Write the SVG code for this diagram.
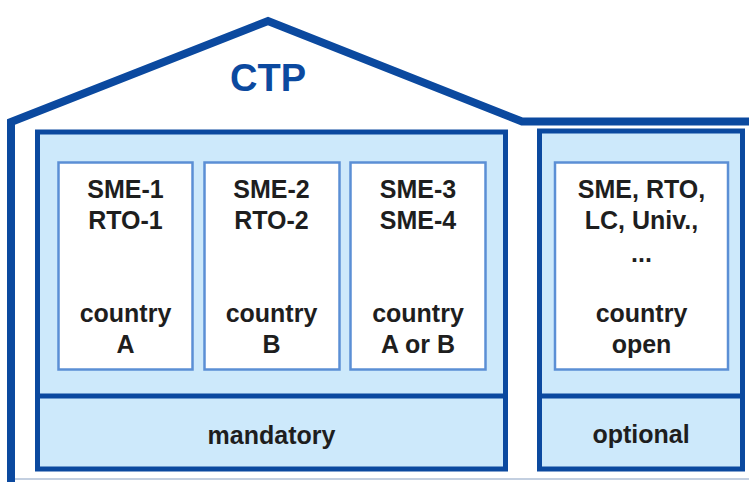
<svg xmlns="http://www.w3.org/2000/svg" width="749" height="482" viewBox="0 0 749 482">
<style>
.frame{fill:#cde9fb;stroke:#0b499f;stroke-width:5}
.div{stroke:#0b499f;stroke-width:5}
.inner{fill:#ffffff;stroke:#5b8fd5;stroke-width:2.5}
.t{font-family:"Liberation Sans",Arial,sans-serif;font-weight:bold;font-size:25px;fill:#1e1e1e;text-anchor:middle}
.title{font-family:"Liberation Sans",Arial,sans-serif;font-weight:bold;font-size:38px;fill:#0b499f;text-anchor:middle}
</style>
<rect width="749" height="482" fill="#ffffff"/>
<g id="house">
<path d="M11 482 L11 122 L268 21 L522 121.5 L749 121.5" fill="none" stroke="#0b499f" stroke-width="8" stroke-linejoin="miter"/>
<line x1="15" y1="479" x2="749" y2="479" stroke="#c3cfe0" stroke-width="2"/>
<text class="title" x="268" y="91">CTP</text>
</g>
<g id="mandatory">
<rect class="frame" x="37.5" y="132" width="468" height="337"/>
<line class="div" x1="37.5" y1="396" x2="505.5" y2="396"/>
<text class="t" x="271.5" y="444">mandatory</text>
</g>
<g id="optional">
<rect class="frame" x="539.5" y="131" width="203" height="338"/>
<line class="div" x1="539.5" y1="396" x2="742.5" y2="396"/>
<text class="t" x="641" y="443">optional</text>
</g>
<g id="partner1">
<rect class="inner" x="58.5" y="162.5" width="134" height="207"/>
<text class="t" x="125.5" y="198">SME-1</text>
<text class="t" x="125.5" y="229">RTO-1</text>
<text class="t" x="125.5" y="322">country</text>
<text class="t" x="125.5" y="353">A</text>
</g>
<g id="partner2">
<rect class="inner" x="204.5" y="162.5" width="135" height="207"/>
<text class="t" x="271.5" y="198">SME-2</text>
<text class="t" x="271.5" y="229">RTO-2</text>
<text class="t" x="271.5" y="322">country</text>
<text class="t" x="271.5" y="353">B</text>
</g>
<g id="partner3">
<rect class="inner" x="350.5" y="162.5" width="135" height="207"/>
<text class="t" x="418" y="198">SME-3</text>
<text class="t" x="418" y="229">SME-4</text>
<text class="t" x="418" y="322">country</text>
<text class="t" x="418" y="353">A or B</text>
</g>
<g id="partner-optional">
<rect class="inner" x="555" y="162.5" width="173" height="207"/>
<text class="t" x="641.5" y="198">SME, RTO,</text>
<text class="t" x="641.5" y="229">LC, Univ.,</text>
<text class="t" x="641.5" y="262">...</text>
<text class="t" x="641.5" y="322">country</text>
<text class="t" x="641.5" y="353">open</text>
</g>
<g id="connectors"></g>
</svg>
